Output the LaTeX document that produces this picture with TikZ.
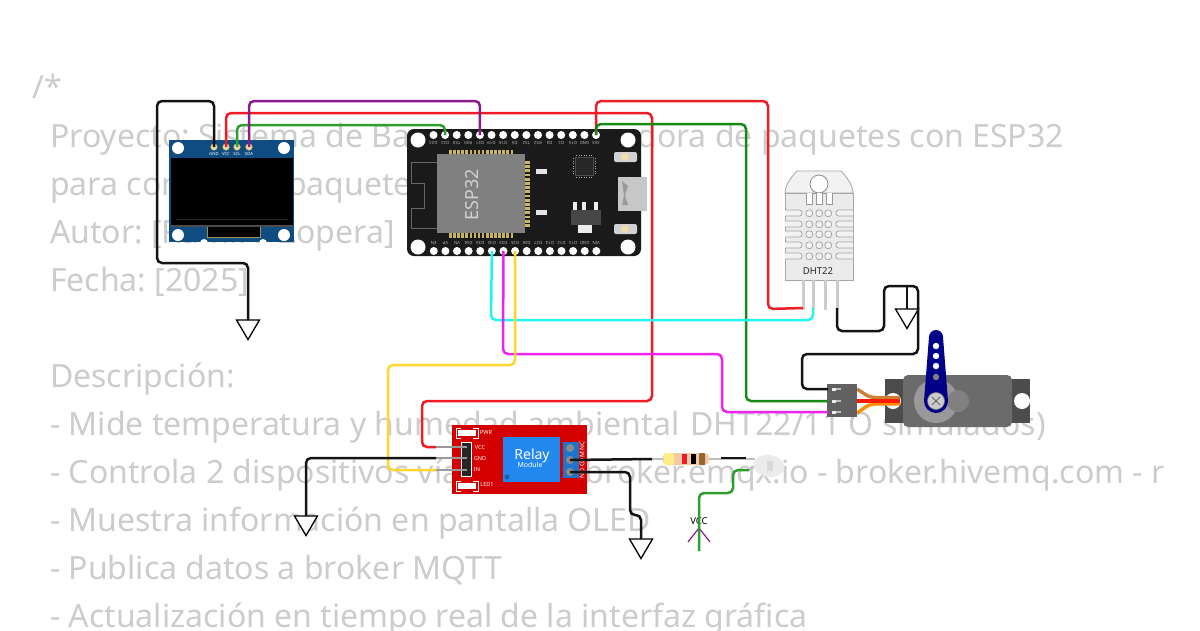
\documentclass[tikz,border=0pt]{standalone}
\usepackage{fontspec}
\setmainfont{Noto Sans}
\usetikzlibrary{shapes.geometric}
\definecolor{codegray}{HTML}{CCCCCC}
\definecolor{oledblue}{HTML}{0F4C81}
\definecolor{board}{HTML}{1A1A1A}
\definecolor{modgray}{HTML}{808080}
\definecolor{gold}{HTML}{C8B560}
\definecolor{cream}{HTML}{F2DCAE}
\definecolor{relayred}{HTML}{D40000}
\definecolor{relayblue}{HTML}{2288EE}
\definecolor{wred}{HTML}{EE1C24}
\definecolor{wgreen}{HTML}{158A15}
\definecolor{wgreenb}{HTML}{2E9E2E}
\definecolor{wpurple}{HTML}{8B1A8B}
\definecolor{wcyan}{HTML}{22F4F4}
\definecolor{wmagenta}{HTML}{F022EE}
\definecolor{wyellow}{HTML}{FFD52E}
\definecolor{wblack}{HTML}{141414}
\definecolor{navy}{HTML}{000088}
\tikzset{
  code/.style={anchor=base west,inner sep=0pt,text=codegray,font=\fontsize{32}{48}\selectfont\frenchspacing},
  wire/.style={line width=2.5pt,rounded corners=5pt},
  lead/.style={line width=2.2pt,draw=black!25},
  servowire/.style={line width=3.4pt,rounded corners=5pt},
  gndsym/.style={draw=black,line width=1.3pt,fill=white,line join=miter},
  tiny/.style={inner sep=0pt,text=white,font=\fontsize{4.3}{5}\selectfont},
  pinlab/.style={tiny,text=white!72!black,rotate=180},
  small/.style={tiny,font=\fontsize{5.5}{6}\selectfont},
  hole/.style={circle,fill=white,inner sep=0pt},
  slot/.style={draw=black!35,line width=.8pt,fill=white!95!black,rounded corners=2.5pt},
}
\begin{document}
\begin{tikzpicture}[x=1pt,y=-1pt]
\useasboundingbox (0,0) rectangle (1200,630);
\fill[white] (0,0) rectangle (1200,630);

% code text behind the parts
\begin{scope}
\clip (0,0) rectangle (1168,630);
\node[code] (t0) at (32,98) {/*};
\node[code] (t1) at (50,147) {Proyecto: Sistema de Ba};
\node[code,anchor=base east] (t1b) at (1064,147) {dora de paquetes con ESP32};
\node[code] (t2) at (50,195) {para control de paquetes};
\node[code] (t3) at (50,243) {Autor: [Ramiro Zopera]};
\node[code] (t4) at (50,291) {Fecha: [2025]};
\node[code] (t5) at (50,387) {Descripción:};
\node[code] (t6) at (50,435) {- Mide temperatura y humedad ambiental\hspace{3pt} DHT22/11 O simulados)};
\node[code] (t7) at (50,483) {- Controla 2 dispositivos vía MQTT - broker.emqx.io - broker.hivemq.com - r};
\node[code] (t8) at (50,531) {- Muestra información en pantalla OLED};
\node[code] (t9) at (50,579) {- Publica datos a broker MQTT};
\node[code] (t10) at (50,627) {- Actualización en tiempo real de la interfaz gráfica};
\end{scope}

% OLED
\fill[oledblue] (169,140) rectangle (294,242);
\fill[black] (170.5,158) rectangle (292.5,225);
\draw[black!85,line width=.4pt] (176,219) -- (288,219);
\fill[black!70] (170.5,225) rectangle (292.5,227);
\fill[black] (207,227) rectangle (260,237);
\draw[gold!80!black,line width=.8pt] (207,227) -- (207,237) -- (260,237) -- (260,227);
\foreach \p/\q in {a/{178,148},b/{284,148},c/{178,235},d/{284,235}}
  \node[hole,minimum size=12pt] (ohole\p) at (\q) {};
\foreach \p/\q in {e/{204,243},f/{263,243}}
  \node[hole,minimum size=8pt] (onotch\p) at (\q) {};
\foreach \n/\x/\t in {Gnd/214/GND,Vcc/226/VCC,Scl/237/SCL,Sda/249/SDA}{
  \node[circle,fill=cream,draw=gold,line width=.6pt,minimum size=6.5pt,inner sep=0pt] (oled\n) at (\x,147) {};
  \node[tiny] (olab\n) at (\x,154) {\t};
}

% ESP32
\fill[board,rounded corners=7pt] (407,129) rectangle (641,256);
\foreach \p/\q in {a/{418,140},b/{628,140},c/{418,247},d/{628,247}}
  \node[hole,minimum size=15pt] (ehole\p) at (\q) {};
\foreach \i/\t in {0/D23,1/D22,2/TX0,3/RX0,4/D21,5/D19,6/D18,7/D5,8/TX2,9/RX2,10/D4,11/D2,12/D15,13/GND,14/3V3}{
  \pgfmathsetmacro\px{433.5+\i*11.61}
  \node[hole,minimum size=8pt] (up\i) at (\px,135) {};
  \node[pinlab] (uplab\i) at (\px,143) {\t};
}
\foreach \i/\t in {0/EN,1/VP,2/VN,3/D34,4/D35,5/D32,6/D33,7/D25,8/D26,9/D27,10/D14,11/D12,12/D13,13/GND,14/VIN}{
  \pgfmathsetmacro\px{433.8+\i*11.61}
  \node[hole,minimum size=8pt] (dn\i) at (\px,251) {};
  \node[pinlab] (dnlab\i) at (\px,243) {\t};
}
\foreach \i in {0,...,15}{
  \fill[gold] (449+\i*4.1,150) rectangle ++(2.6,4);
  \fill[gold] (449+\i*4.1,233) rectangle ++(2.6,5);
  \fill[gold] (525,161+\i*4.2) rectangle ++(5,2.8);
}
\fill[modgray] (437,154) rectangle (525,233);
\node[rotate=90,text=black!18,inner sep=0pt,font=\fontsize{18}{18}\selectfont] (esplab) at (472,195) {ESP32};
\draw[black!60,line width=.5pt] (437,162) -- (411,162) -- (411,183) -- (424,183) -- (424,208) -- (411,208) -- (411,228) -- (437,228);
\fill[white!80!gray] (536,169) rectangle (547,174);
\fill[white!80!gray] (536,210) rectangle (547,215);
% usb chip and regulator
\fill[black!85,draw=black!70,line width=.5pt] (575,157) rectangle (593,175);
\draw[white!70!black,line width=1pt,dash pattern=on 1.3pt off 1.2pt] (573,158) -- (573,175) (595,158) -- (595,175) (576,155) -- (593,155) (576,177) -- (593,177);
\fill[black!72] (571,210) rectangle (601,225);
\foreach \x in {575,584,596} \fill[white!85!gray] (\x-2,202) rectangle (\x+2,210);
\fill[white!85!gray] (578,225) rectangle (592,233);
\fill[black!22] (618,177) rectangle (647,211);
\fill[black!40] (622,181) -- (628,186) -- (625,195) -- (628,205) -- (622,205) -- (624,195) -- cycle;
\foreach \n/\y in {a/157,b/229}{
  \fill[black!18,rounded corners=2pt] (614,\y-5) rectangle (637,\y+5);
  \node[circle,fill=cream,inner sep=0pt,minimum size=8pt] (btn\n) at (625,\y) {};
}

% DHT22
\fill[white!95!black,draw=black!35,line width=.8pt] (785,193) .. controls (785,185) and (792,176) .. (797,171) -- (841,171) .. controls (846,176) and (853,185) .. (853,193) -- cycle;
\fill[white!92!black,draw=black!35,line width=.8pt] (785,193) rectangle (853,280);
\node[circle,draw=black!45,fill=white,line width=.8pt,minimum size=18pt,inner sep=0pt] (dhthole) at (819,184) {};
\draw[black!40,line width=.8pt,fill=white] (806,193) -- (806,204) -- (812,204) -- (812,193) -- (816,193) -- (816,204) -- (822,204) -- (822,193) -- (826,193) -- (826,204) -- (832,204) -- (832,193);
\foreach \y in {213,224,234,245,256}{
  \draw[slot] (785,\y-3) -- (802,\y-3) -- (802,\y+3) -- (785,\y+3);
  \draw[slot] (853,\y-3) -- (836,\y-3) -- (836,\y+3) -- (853,\y+3);
  \foreach \x in {806,816,825} \draw[slot] (\x,\y-3) rectangle ++(6.5,6.5);
}
\node[inner sep=0pt,text=black!85,font=\fontsize{9.5}{10}\selectfont] (dhtlab) at (818,271) {DHT22};
\foreach \n/\x in {a/803,b/813,c/825,d/837}{
  \coordinate (dht\n) at (\x,308);
  \draw[line width=3pt,draw=black!20] (\x,280) -- (\x,310);
}

% servo
\fill[black!70] (885,379) rectangle (1030,423);
\fill[black!58,rounded corners=5pt] (903,375) rectangle (1012,427);
\node[hole,minimum size=16pt] (shole1) at (893,401) {};
\node[hole,minimum size=16pt] (shole2) at (1022,401) {};
\node[circle,fill=black!40,inner sep=0pt,minimum size=44pt] (sdisc) at (936,401) {};
\node[circle,fill=black!50,inner sep=0pt,minimum size=22pt] (sboss) at (958,401) {};
\draw[servowire,draw=brown!80!orange] (857,389) -- (870,397.5) -- (900,397.5);
\draw[servowire,draw=orange!90!yellow] (857,413) -- (870,404) -- (900,404);
\draw[line width=3.6pt,draw=red!80!orange] (857,401) -- (900,401);
\fill[navy] (929,337) arc[start angle=180,end angle=0,radius=7pt] -- (948,401) arc[start angle=0,end angle=-180,radius=12pt] -- cycle;
\foreach \y in {346,356,366} \fill[white] (936,\y) circle (3.2pt);
\fill[black!50] (936,377) circle (3.2pt);
\node[circle,fill=black!20,draw=black!50,line width=.6pt,inner sep=0pt,minimum size=17pt] (shaft) at (936,401) {};
\draw[black!60,line width=1pt] (932,397) -- (940,405) (932,405) -- (940,397);
\fill[black!62] (827,384) rectangle (857,417);
\foreach \n/\y in {Gnd/389,Vcc/401,Sig/412}{
  \coordinate (servo\n) at (828,\y);
  \fill[white!85!gray] (832,\y-1.5) rectangle (836,\y+1.5);
  \fill[black!25] (836,\y-.7) rectangle (841,\y+.7);
}

% relay
\fill[relayred] (452,425) rectangle (587,494);
\fill[relayblue] (503,437) rectangle (560,482);
\node[inner sep=0pt,text=white,font=\fontsize{14}{14}\selectfont] (rlab) at (532,456) {Relay};
\node[inner sep=0pt,text=white,font=\fontsize{7}{7}\selectfont] (rmod) at (530,465) {Module};
\fill[relayblue!70!black] (507,477) circle (2.5pt);
\fill[white] (458,430) rectangle (476,436);
\fill[white] (458,483) rectangle (476,489);
\draw[white,line width=.7pt] (461,428) -- (456,428) -- (456,438) -- (461,438) (473,428) -- (478,428) -- (478,438) -- (473,438);
\draw[white,line width=.7pt] (461,481) -- (456,481) -- (456,491) -- (461,491) (473,481) -- (478,481) -- (478,491) -- (473,491);
\node[small] (rpwr) at (486,433) {PWR};
\node[small] (rled) at (487,485) {LED1};
\node[small] (rvcc) at (480,448) {VCC};
\node[small] (rgnd) at (480,459) {GND};
\node[small] (rin) at (477,470) {IN};
\fill[black!85,draw=white,line width=.7pt] (461,442) rectangle (471,476);
\foreach \n/\y in {Vcc/447,Gnd/458,In/470}{
  \coordinate (relay\n) at (436,\y);
  \draw[lead,draw=black!40] (436,\y) -- (467,\y);
}
\fill[relayblue!85!black] (563,442) rectangle (579,478);
\foreach \n/\y in {Nc/448,Com/460,No/472}{
  \node[circle,fill=black!45,inner sep=0pt,minimum size=8pt] (screw\n) at (570,\y) {};
}
\node[tiny,rotate=90,font=\fontsize{6.5}{7}\selectfont] (rterm) at (582,460) {NO COM NC};

% resistor and led
\draw[lead] (652,459) -- (663,459) (709,459) -- (755,459);
\fill[brown!30!white!85!orange,rounded corners=4pt] (663,453) rectangle (709,465);
\fill[white!60!yellow!90!orange,rounded corners=2pt] (664,453) rectangle (674,465);
\fill[wred] (682,454) rectangle (687,464);
\fill[black] (691,454) rectangle (696,464);
\fill[brown!80!black,rounded corners=1pt] (699,453) rectangle (705,465);
\draw[lead] (748,470) -- (757,465);
\node[ellipse,fill=black!8,inner sep=0pt,minimum width=31pt,minimum height=22pt,rotate=-8] (led) at (769,466) {};
\fill[black!15] (767,461) rectangle (773,471);
\coordinate (ledA) at (721,458);
\coordinate (ledB) at (746,458);
\coordinate (ledC) at (749,470);
\coordinate (resA) at (652,459);

% ground symbols
\coordinate (g1) at (248,320);
\coordinate (g2) at (907,309);
\coordinate (g3) at (306,516);
\coordinate (g4) at (641,539);
\foreach \c in {g1,g2,g3,g4}
  \draw[gndsym] (\c) +(-11.5,0) -- +(11.5,0) -- +(0,19.5) -- cycle;

% vcc symbol
\node[inner sep=0pt,text=black,font=\fontsize{9.5}{10}\selectfont] (vcclab) at (699,521) {VCC};
\coordinate (vcc) at (699,528);
\coordinate (vccl) at (688,542);
\coordinate (vccr) at (710,542);
\coordinate (vccend) at (699,551);
\draw[wpurple,line width=1.2pt] (vccl) -- (vcc) -- (vccr);

% wires
\draw[wire,wblack] (oledGnd.center) -- (214,101) -- (157,101) -- (157,263) -- (248,263) -- (g1);
\draw[wire,wred] (oledVcc.center) -- (226,113) -- (652,113) -- (652,401) -- (422,401) -- (422,447) -- (relayVcc);
\draw[wire,wgreenb] (oledScl.center) -- (237,125) -- (445,125) -- (up1.center);
\draw[wire,wpurple] (oledSda.center) -- (249,101) -- (480,101) -- (up4.center);
\draw[wire,wred] (up14.center) -- (596,101) -- (768,101) -- (768,309) -- (dhta);
\draw[wire,wgreen] (up14.center) -- (596,124) -- (746,124) -- (746,401) -- (servoVcc);
\draw[wire,wcyan] (dn5.center) -- (491,320) -- (813,320) -- (dhtb);
\draw[wire,wmagenta] (dn6.center) -- (503,354) -- (722,354) -- (722,412) -- (servoSig);
\draw[wire,wyellow] (dn7.center) -- (515,365) -- (388,365) -- (388,470) -- (relayIn);
\draw[wire,wblack] (dhtd) -- (837,331) -- (884,331) -- (884,286) -- (918,286) -- (918,354) -- (802,354) -- (802,389) -- (servoGnd);
\draw[wblack,line width=1.6pt] (907,286) -- (g2);
\draw[wire,wblack] (relayGnd) -- (306,458) -- (g3);
\draw[wire,wblack] (screwCom.center) -- (resA);
\draw[wire,wblack] (screwNo.center) -- (630,472) -- (630,515) -- (641,515) -- (g4);
\draw[wblack,line width=2pt] (ledA) -- (ledB);
\draw[wire,wgreenb] (ledC) -- (733,470) -- (733,493) -- (699,493) -- (vccend);
\end{tikzpicture}
\end{document}
